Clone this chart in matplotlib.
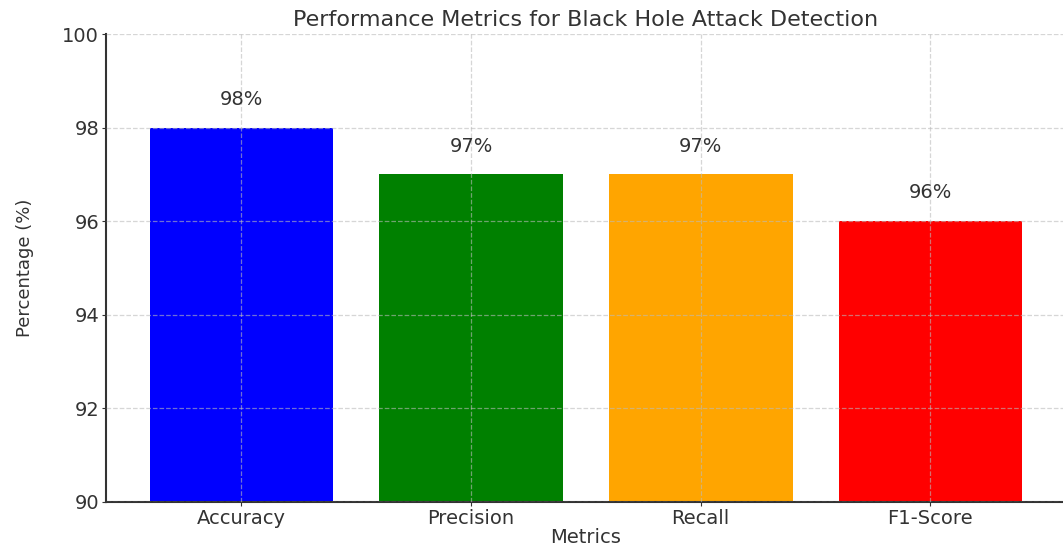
import matplotlib
matplotlib.use("Agg")
import matplotlib.pyplot as plt

# detection scores in percent
metrics = ["Accuracy", "Precision", "Recall", "F1-Score"]
scores = [98, 97, 97, 96]
colors = ["blue", "green", "orange", "red"]

text_color = "#333333"

fig = plt.figure(figsize=(10.63, 5.45), dpi=100)
ax = fig.add_axes([0.0997, 0.0789, 0.903, 0.8587])

bars = ax.bar(metrics, scores, color=colors, width=0.8)

for bar, val in zip(bars, scores):
    ax.text(bar.get_x() + bar.get_width() / 2, val + 0.4, f"{val}%",
            ha="center", va="bottom", fontsize=14, color=text_color)

ax.set_ylim(90, 100)
ax.set_yticks(range(90, 101, 2))
ax.set_title("Performance Metrics for Black Hole Attack Detection",
             fontsize=16, color=text_color, pad=6)
ax.set_xlabel("Metrics", fontsize=14, color=text_color, labelpad=0)
ax.set_ylabel("Percentage (%)", fontsize=13, color=text_color, labelpad=20)

ax.grid(True, linestyle="--", color="#bbbbbb", linewidth=0.9, alpha=0.6)
ax.set_axisbelow(False)
ax.spines["top"].set_visible(False)
ax.spines["right"].set_visible(False)
for side in ["left", "bottom"]:
    ax.spines[side].set_color(text_color)
    ax.spines[side].set_linewidth(1.5)
ax.tick_params(colors=text_color, labelsize=14, length=3, pad=2)

plt.savefig("out.png", dpi=100)
